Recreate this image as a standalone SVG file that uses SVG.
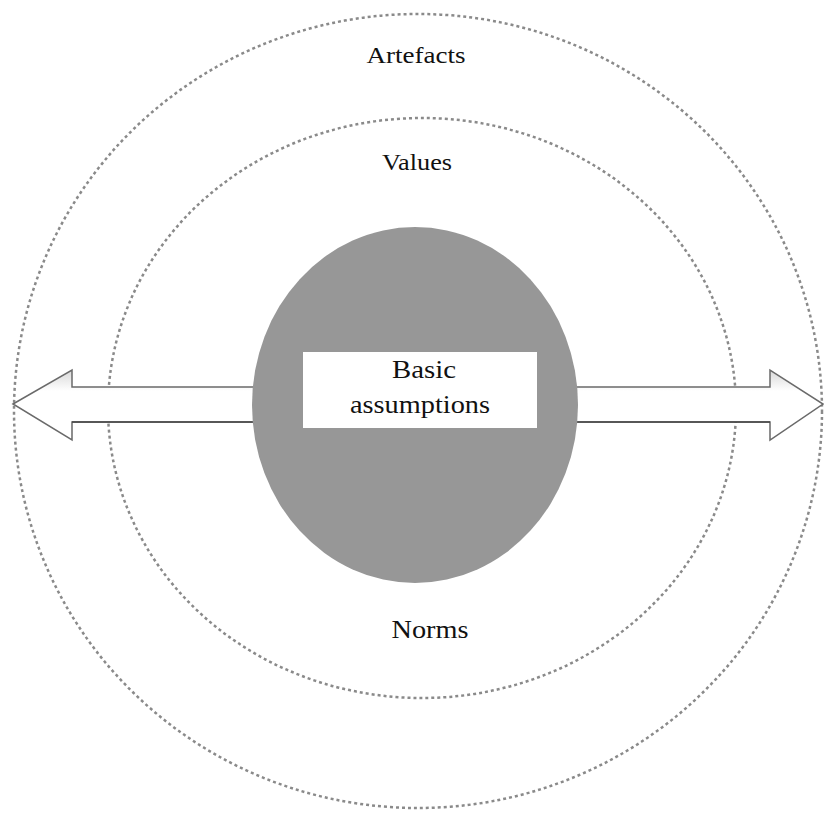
<svg xmlns="http://www.w3.org/2000/svg" width="824" height="814" viewBox="0 0 824 814">
<style>
.ring{fill:none;stroke:#8a8a8a;stroke-width:2.5;stroke-dasharray:3 3}
.lbl{font-family:"Liberation Serif","Times New Roman",serif;fill:#111;text-anchor:middle}
</style>
<defs>
<linearGradient id="shaft" x1="0" y1="0" x2="0" y2="1">
<stop offset="0" stop-color="#d8d8d8"/>
<stop offset="0.3" stop-color="#ffffff"/>
<stop offset="1" stop-color="#ffffff"/>
</linearGradient>
</defs>
<rect width="824" height="814" fill="#fff"/>
<g id="artefacts">
<ellipse class="ring" cx="418" cy="411" rx="404" ry="397"/>
<text class="lbl" x="416" y="63" font-size="24" textLength="99" lengthAdjust="spacingAndGlyphs">Artefacts</text>
</g>
<g id="values">
<ellipse class="ring" cx="422" cy="408" rx="314" ry="290"/>
<text class="lbl" x="417" y="170" font-size="24" textLength="70" lengthAdjust="spacingAndGlyphs">Values</text>
</g>
<g id="connectors">
<polygon points="13,404 72,370 72,387 770,387 770,370 823,404 770,440 770,422 72,422 72,440" fill="url(#shaft)" stroke="#6a6a6a" stroke-width="1.5"/>
<line x1="72" y1="422" x2="770" y2="422" stroke="#444" stroke-width="1.5"/>
</g>
<g id="norms">
<text class="lbl" x="430" y="638" font-size="26" textLength="77" lengthAdjust="spacingAndGlyphs">Norms</text>
</g>
<g id="basic-assumptions">
<ellipse cx="415" cy="405" rx="163" ry="178" fill="#979797"/>
<rect x="303" y="352" width="234" height="76" fill="#fff"/>
<text class="lbl" x="424" y="378" font-size="26" textLength="64" lengthAdjust="spacingAndGlyphs">Basic</text>
<text class="lbl" x="420" y="413" font-size="26" textLength="140" lengthAdjust="spacingAndGlyphs">assumptions</text>
</g>
</svg>
